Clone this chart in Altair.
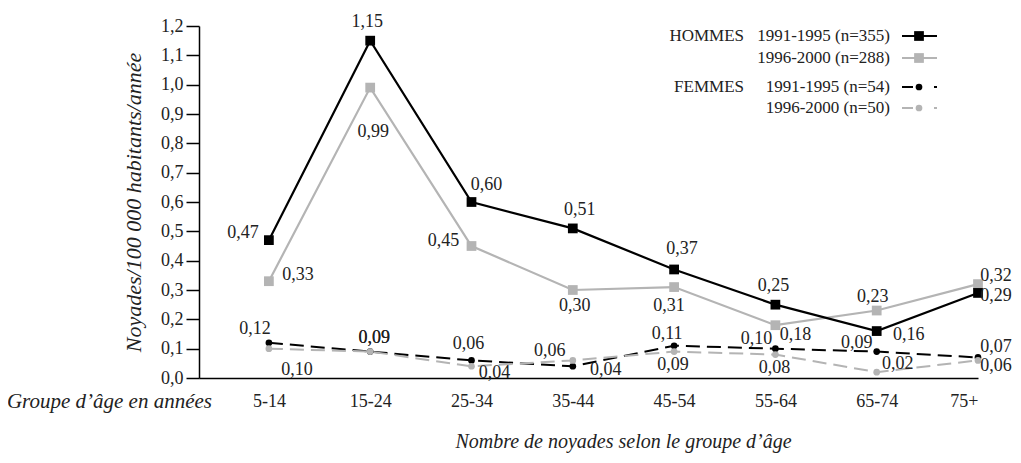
import json
import altair as alt
import pandas as pd

# ---------------- data ----------------
categories = ["5-14", "15-24", "25-34", "35-44", "45-54", "55-64", "65-74", "75+"]
hommes_1991 = [0.47, 1.15, 0.60, 0.51, 0.37, 0.25, 0.16, 0.29]
hommes_1996 = [0.33, 0.99, 0.45, 0.30, 0.31, 0.18, 0.23, 0.32]
femmes_1991 = [0.12, 0.09, 0.06, 0.04, 0.11, 0.10, 0.09, 0.07]
femmes_1996 = [0.10, 0.09, 0.04, 0.06, 0.09, 0.08, 0.02, 0.06]
y_ticks = [0.0, 0.1, 0.2, 0.3, 0.4, 0.5, 0.6, 0.7, 0.8, 0.9, 1.0, 1.1, 1.2]

legend_groups = ["HOMMES", "FEMMES"]
legend_series = ["1991-1995 (n=355)", "1996-2000 (n=288)", "1991-1995 (n=54)", "1996-2000 (n=50)"]

y_title = "Noyades/100 000 habitants/année"
x_title = "Nombre de noyades selon le groupe d’âge"
x_lead = "Groupe d’âge en années"

# ---------------- layout (label offsets in px, not data) ----------------
W, H = 779, 352
X_DOMAIN = [-0.69, 7.0]
Y_DOMAIN = [0.0, 1.2]
XU = (X_DOMAIN[1] - X_DOMAIN[0]) / W
YU = (Y_DOMAIN[1] - Y_DOMAIN[0]) / H

offsets = {
    "H1991": ([-26, -3, 15, 7, 8, -2, 32, 18], [-7, -19, -17, -18, -20, -19, 4, 3]),
    "H1996": ([29, 3, -28, 2, -5, 20, -4, 18], [-6, 44, -5, 16, 19, 10, -14, -8]),
    "F1991": ([-14, 4, -3, 33, -7, -19, -20, 18], [-14, -14, -16, 4, -12, -10, -9, -10]),
    "F1996": ([28, 4, 23, -23, -1, -1, 21, 18], [21, -14, 7, -9, 13, 13, -8, 6]),
}
series_values = {"H1991": hommes_1991, "H1996": hommes_1996,
                 "F1991": femmes_1991, "F1996": femmes_1996}

FONT = "Liberation Serif"
BLACK = "#000000"
GRAY = "#b4b4b4"
TXT = "#222222"


def frame(key):
    vals = series_values[key]
    dxs, dys = offsets[key]
    rows = []
    for i, (c, v) in enumerate(zip(categories, vals)):
        rows.append({
            "i": i, "cat": c, "v": v,
            "label": f"{v:.2f}".replace(".", ","),
            "lx": i + dxs[i] * XU,
            "ly": v - dys[i] * YU,
        })
    return pd.DataFrame(rows)


label_expr = json.dumps(categories) + "[datum.value]"

x_scale = alt.Scale(domain=X_DOMAIN, nice=False, zero=False)
y_scale = alt.Scale(domain=Y_DOMAIN, nice=False)

x_axis = alt.Axis(
    values=list(range(len(categories))), labelExpr=label_expr, grid=False, ticks=False,
    domainColor=BLACK, domainWidth=1.5, labelFont=FONT, labelFontSize=18,
    labelColor=TXT, labelPadding=14, title=x_title, titleFont=FONT,
    titleFontSize=20, titleFontStyle="italic", titleFontWeight="normal",
    titleColor=TXT, titleX=424, titleY=63, titleAlign="center",
    titleBaseline="middle",
)
y_axis = alt.Axis(
    values=y_ticks, labelExpr="replace(format(datum.value, '.1f'), '.', ',')",
    grid=False, tickSize=13, tickColor=BLACK, tickWidth=1.5, domainColor=BLACK,
    domainWidth=1.5, labelFont=FONT, labelFontSize=18, labelColor=TXT,
    labelPadding=3, title=y_title, titleFont=FONT, titleFontSize=22,
    titleFontStyle="italic", titleFontWeight="normal", titleColor=TXT,
    titlePadding=15,
)


def X(field):
    return alt.X(field, scale=x_scale, axis=x_axis)


def Y(field):
    return alt.Y(field, scale=y_scale, axis=y_axis)


def series_layers(key, color, dashed, square):
    df = frame(key)
    base = alt.Chart(df)
    line_kw = dict(color=color, strokeWidth=2.2 if not dashed else 2.0)
    if dashed:
        line_kw["strokeDash"] = [14, 7]
    line = base.mark_line(**line_kw).encode(x=X("i:Q"), y=Y("v:Q"))
    if square:
        pts = base.mark_point(shape="square", filled=True, size=95, opacity=1,
                              color=color).encode(x=X("i:Q"), y=Y("v:Q"))
    else:
        pts = base.mark_circle(size=45, opacity=1, color=color).encode(
            x=X("i:Q"), y=Y("v:Q"))
    txt = base.mark_text(font=FONT, fontSize=18, color=TXT, align="center",
                         baseline="middle").encode(
        x=X("lx:Q"), y=Y("ly:Q"), text="label:N")
    return [line, pts, txt]


layers = []
layers += series_layers("H1996", GRAY, False, True)
layers += series_layers("H1991", BLACK, False, True)
layers += series_layers("F1991", BLACK, True, False)
layers += series_layers("F1996", GRAY, True, False)

one = pd.DataFrame({"k": [0]})

# lead label left of x tick labels
layers.append(alt.Chart(pd.DataFrame({"t": [x_lead]})).mark_text(
    font=FONT, fontSize=21, fontStyle="italic", color=TXT, align="right",
    baseline="middle").encode(x=alt.value(13), y=alt.value(376), text="t:N"))

# legend
rows_y = [10, 32, 61, 82]
group_y = [10, 61]
for g, gy in zip(legend_groups, group_y):
    layers.append(alt.Chart(pd.DataFrame({"t": [g]})).mark_text(
        font=FONT, fontSize=17, color=TXT, align="right", baseline="middle").encode(
        x=alt.value(545), y=alt.value(gy), text="t:N"))
styles = [(BLACK, False, True), (GRAY, False, True), (BLACK, True, False), (GRAY, True, False)]
for s, ry, (col, dashed, square) in zip(legend_series, rows_y, styles):
    layers.append(alt.Chart(pd.DataFrame({"t": [s]})).mark_text(
        font=FONT, fontSize=17, color=TXT, align="right", baseline="middle").encode(
        x=alt.value(691), y=alt.value(ry), text="t:N"))
    rule_kw = dict(color=col, strokeWidth=2.2)
    if dashed:
        rule_kw["strokeDash"] = [11, 21]
    layers.append(alt.Chart(one).mark_rule(**rule_kw).encode(
        x=alt.value(703), x2=alt.value(738), y=alt.value(ry)))
    if square:
        layers.append(alt.Chart(one).mark_point(shape="square", filled=True, size=95,
                                                opacity=1, color=col).encode(
            x=alt.value(720), y=alt.value(ry)))
    else:
        layers.append(alt.Chart(one).mark_circle(size=45, opacity=1, color=col).encode(
            x=alt.value(720), y=alt.value(ry)))

chart = alt.layer(*layers).properties(
    width=W, height=H,
    autosize=alt.AutoSizeParams(type="none"),
    padding={"left": 191, "top": 18, "right": 35, "bottom": 76},
    background="white",
).configure_view(stroke=None)

chart.save("out.html", embed_options={"renderer": "svg", "actions": False})
